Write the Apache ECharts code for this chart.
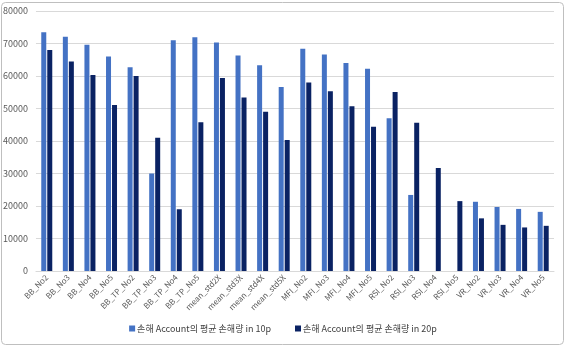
<!DOCTYPE html>
<html><head><meta charset="utf-8">
<script src="https://cdn.jsdelivr.net/npm/echarts@6/dist/echarts.min.js"></script>
<style>html,body{margin:0;padding:0;background:#fff}#c{width:566px;height:348px}</style>
</head><body><div id="c"></div>
<script>
const categories = ["BB_No2","BB_No3","BB_No4","BB_No5","BB_TP_No2","BB_TP_No3","BB_TP_No4","BB_TP_No5","mean_std2X","mean_std3X","mean_std4X","mean_std5X","MFI_No2","MFI_No3","MFI_No4","MFI_No5","RSI_No2","RSI_No3","RSI_No4","RSI_No5","VR_No2","VR_No3","VR_No4","VR_No5"];
const series10p = [73500,72100,69600,66000,62700,30000,71000,71900,70300,66300,63300,56600,68400,66600,64000,62200,47000,23400,0,0,21300,19700,19100,18200];
const series20p = [68000,64500,60300,51100,60000,41000,19000,45800,59400,53400,49000,40300,58000,55300,50700,44400,55100,45600,31700,21500,16200,14200,13400,13900];
const name10 = "손해 Account의 평균 손해량 in 10p";
const name20 = "손해 Account의 평균 손해량 in 20p";
const font = "'Noto Sans CJK KR', 'Noto Sans', sans-serif";
const chart = echarts.init(document.getElementById('c'));
chart.setOption({
  animation: false,
  textStyle: {fontFamily: font},
  grid: {left: 35, right: 12, top: 11, bottom: 77},
  graphic: [{type:'rect', shape:{x:1.5,y:2.5,width:562,height:342,r:4}, style:{fill:'none',stroke:'#bfbfbf',lineWidth:1}}],
  legend: {
    bottom: 10, left: 'center', itemWidth: 6, itemHeight: 6, itemGap: 24, icon: 'rect',
    textStyle: {fontSize: 9, color: '#404040', fontFamily: font, padding:[0,0,0,-3]},
    data: [name10, name20]
  },
  xAxis: {
    type: 'category', data: categories,
    axisLine: {lineStyle: {color: '#d9d9d9'}},
    axisTick: {show: false},
    axisLabel: {rotate: 45, fontSize: 8, color: '#595959', interval: 0, margin: 5}
  },
  yAxis: {
    type: 'value', min: 0, max: 80000, interval: 10000,
    axisLine: {show: false}, axisTick: {show: false},
    splitLine: {lineStyle: {color: '#d9d9d9'}},
    axisLabel: {fontSize: 9, color: '#595959', margin: 8, formatter: v => String(v)}
  },
  series: [
    {name: name10, type: 'bar', data: series10p, barWidth: 5, barGap: '20%', itemStyle: {color: '#4472C4'}},
    {name: name20, type: 'bar', data: series20p, barWidth: 5, itemStyle: {color: '#0a2263'}}
  ]
});
</script></body></html>
